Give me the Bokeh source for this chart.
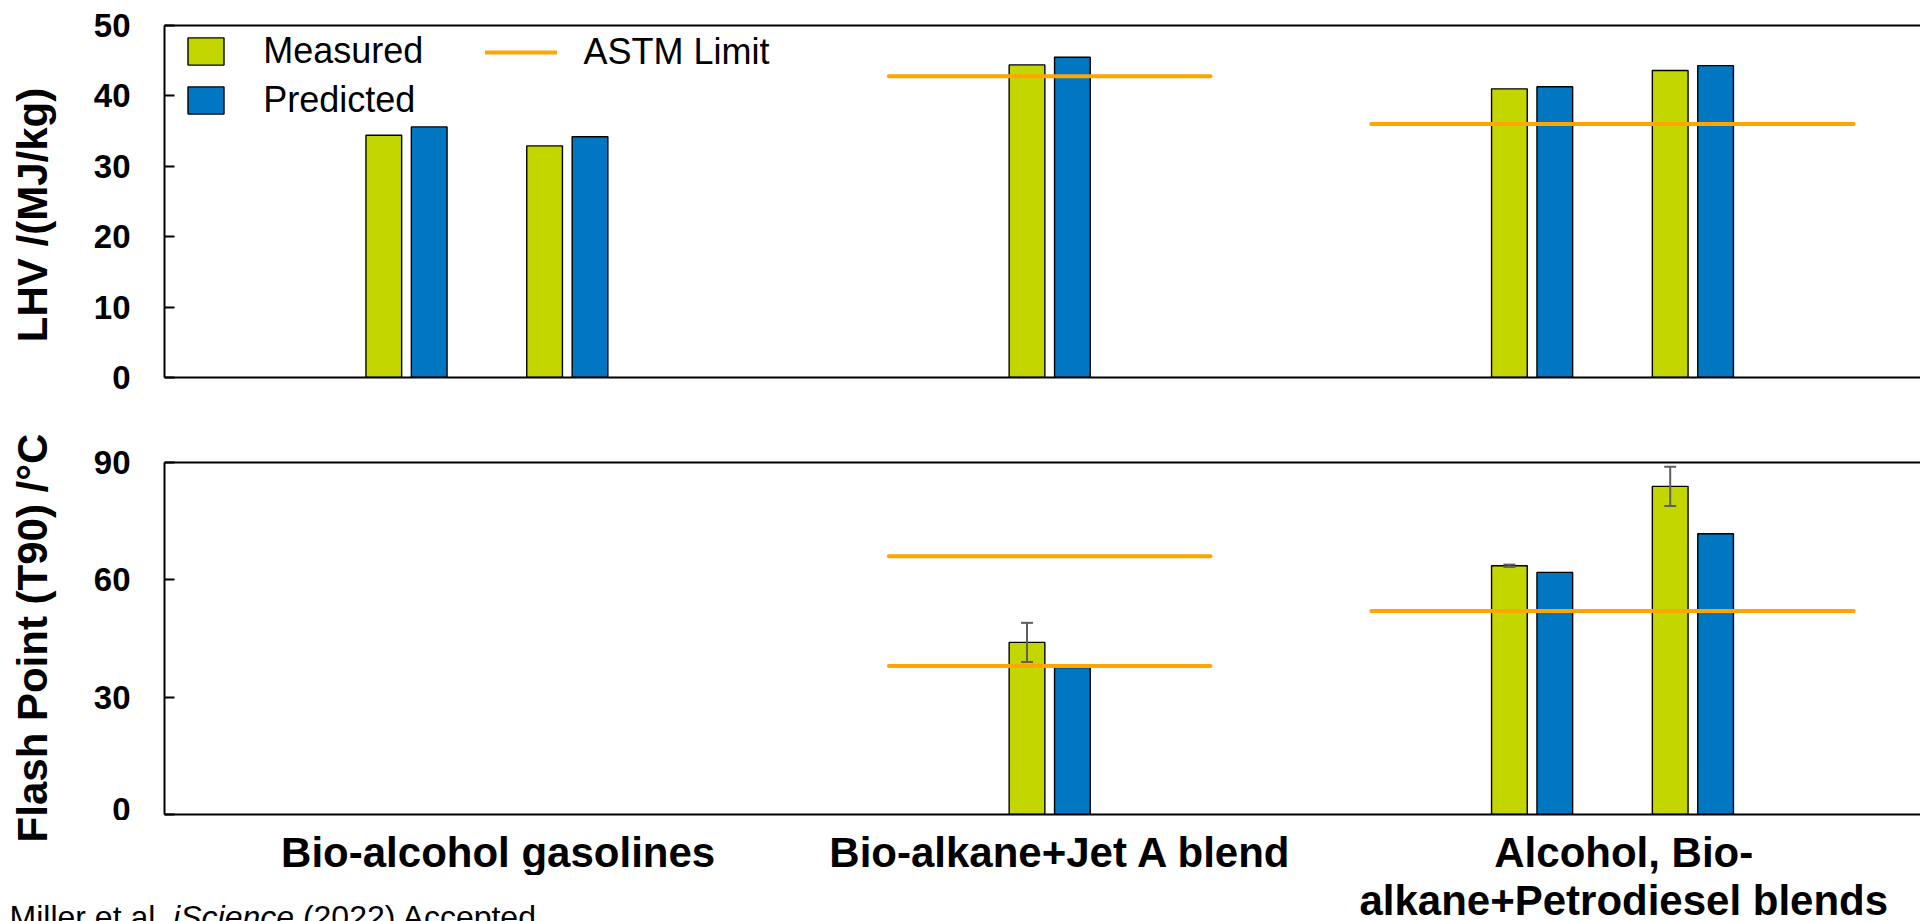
import math
from bokeh.plotting import figure
from bokeh.models import (Range1d, LinearAxis, FixedTicker, Legend, LegendItem,
                          Label, Whisker, TeeHead, ColumnDataSource)
from bokeh.layouts import column, row
from bokeh.embed import file_html
from bokeh.resources import INLINE

NAN = float("nan")

# ---------------- data ----------------
group_names = ["Bio-alcohol gasolines", "Bio-alkane+Jet A blend",
               "Alcohol, Bio-\nalkane+Petrodiesel blends"]
sample_group = [0, 0, 1, 2, 2]
lhv_measured = [34.4, 32.9, 44.4, 41.0, 43.6]
lhv_predicted = [35.6, 34.2, 45.5, 41.3, 44.3]
fp_measured = [NAN, NAN, 44.0, 63.6, 83.9]
fp_measured_err = [NAN, NAN, 5.0, 0.3, 5.0]
fp_predicted = [NAN, NAN, 37.6, 61.9, 71.8]
lhv_limit_group = [1, 2]
lhv_limit_value = [42.8, 36.0]
fp_limit_group = [1, 1, 2]
fp_limit_value = [38.0, 66.0, 52.0]
lhv_ticks = [0, 10, 20, 30, 40, 50]
fp_ticks = [0, 30, 60, 90]
series_names = ["Measured", "Predicted", "ASTM Limit"]
lhv_title = "LHV /(MJ/kg)"
fp_title = "Flash Point (T90) /°C"
footnote_parts = ["Miller et al.", "iScience", "(2022) Accepted"]
footnote_styles = ["normal", "italic", "normal"]

# ---------------- layout / style ----------------
W = 1920
STRIP_W = 84                      # left strip holding the y titles
FRAME_L = 164                     # page x of plot frames
SLOT0_PX = 406.0
SLOT_PX = 160.8
group_first_slot = [0, 4, 7]
BAR_OFF = 22.7 / SLOT_PX
BAR_W = 35.7 / SLOT_PX
X_START = (FRAME_L - SLOT0_PX) / SLOT_PX
X_END = (W - SLOT0_PX) / SLOT_PX
C_MEAS = "#C4D600"
C_PRED = "#0077C0"
C_ASTM = "#FFA500"
C_ERR = "#5F5F5F"
FONT = "Liberation Sans"
BASE_FIX_EM = 0.31                # empirical correction of alphabetic baseline

H1, T1, B1 = 417, 25, 40          # top plot: frame 25..377
H2, T2, B2 = 403, 45, 6           # bottom plot: frame 462..814
Y_CAT = H1 + H2                   # 820: strip with first label line
Y_SPLIT = 875                     # page y where the full-width bottom strip starts
H_PAGE = 921

# sample slots
slots = []
counter = {}
for g in sample_group:
    k = counter.get(g, 0)
    slots.append(group_first_slot[g] + k)
    counter[g] = k + 1
group_last_slot = [group_first_slot[g] + counter[g] - 1 for g in range(len(group_names))]


def style_xaxis(ax):
    ax.ticker = FixedTicker(ticks=[])
    ax.major_tick_line_color = None
    ax.minor_tick_line_color = None
    ax.major_tick_out = 0
    ax.major_tick_in = 0
    ax.major_label_text_font_size = "0px"
    ax.major_label_standoff = 0
    ax.axis_line_width = 2
    ax.axis_line_color = "black"


def style_yaxis(ya, ticks):
    ya.ticker = FixedTicker(ticks=ticks)
    ya.major_tick_in = 10
    ya.major_tick_out = 0
    ya.major_tick_line_width = 2
    ya.major_tick_line_color = "black"
    ya.minor_tick_line_color = None
    ya.axis_line_width = 2
    ya.axis_line_color = "black"
    ya.major_label_standoff = 34
    ya.major_label_text_font = FONT
    ya.major_label_text_font_style = "bold"
    ya.major_label_text_font_size = "33px"
    ya.major_label_text_color = "black"


def make_fig(height, tb, bb, ymax, ticks):
    p = figure(width=W - STRIP_W, height=height, x_range=Range1d(X_START, X_END),
               y_range=Range1d(0, ymax), output_backend="svg", toolbar_location=None,
               min_border_left=FRAME_L - STRIP_W, min_border_right=0, min_border_top=tb,
               min_border_bottom=bb, outline_line_color=None, frame_align=False,
               background_fill_color="white", border_fill_color="white")
    p.grid.visible = False
    top = LinearAxis()
    style_xaxis(top)
    p.add_layout(top, "above")
    for ax in p.below:
        style_xaxis(ax)
    style_yaxis(p.left[0], ticks)
    return p


def draw_bars(p, meas, pred):
    xm, tm, xp, tp = [], [], [], []
    for s, m, q in zip(slots, meas, pred):
        if not math.isnan(m):
            xm.append(s - BAR_OFF); tm.append(m)
        if not math.isnan(q):
            xp.append(s + BAR_OFF); tp.append(q)
    rm = p.vbar(x=xm, top=tm, bottom=0, width=BAR_W, fill_color=C_MEAS,
                line_color="black", line_width=1.4)
    rp = p.vbar(x=xp, top=tp, bottom=0, width=BAR_W, fill_color=C_PRED,
                line_color="black", line_width=1.4)
    return rm, rp


def draw_limits(p, lgroups, lvalues):
    x0 = [group_first_slot[g] - 1 for g in lgroups]
    x1 = [group_last_slot[g] + 1 for g in lgroups]
    return p.segment(x0=x0, y0=lvalues, x1=x1, y1=lvalues, line_color=C_ASTM,
                     line_width=4, line_cap="round")


def text_strip(x0, x1, y0, y1):
    """A bare figure whose data coordinates are page pixels."""
    s = figure(width=x1 - x0, height=y1 - y0, x_range=Range1d(x0, x1),
               y_range=Range1d(y1, y0), output_backend="svg",
               toolbar_location=None, min_border=0, outline_line_color=None,
               frame_align=False, background_fill_color="white",
               border_fill_color="white")
    s.axis.visible = False
    s.grid.visible = False
    return s


# ---------------- top panel ----------------
p1 = make_fig(H1, T1, B1, 50, lhv_ticks)
rm, rp = draw_bars(p1, lhv_measured, lhv_predicted)
rl = draw_limits(p1, lhv_limit_group, lhv_limit_value)

leg1 = Legend(items=[LegendItem(label=series_names[0], renderers=[rm]),
                     LegendItem(label=series_names[1], renderers=[rp])],
              location=(19.2, 255.7), orientation="vertical", glyph_width=45,
              glyph_height=34, label_standoff=35, spacing=7, padding=0, margin=0,
              border_line_color=None, background_fill_alpha=0,
              label_text_font=FONT, label_text_font_size="36px",
              label_text_color="black")
p1.add_layout(leg1)
leg2 = Legend(items=[LegendItem(label=series_names[2], renderers=[rl])],
              location=(321.4, 304.2), orientation="vertical", glyph_width=72,
              glyph_height=34, label_standoff=26, spacing=7, padding=0, margin=0,
              border_line_color=None, background_fill_alpha=0,
              label_text_font=FONT, label_text_font_size="36px",
              label_text_color="black")
p1.add_layout(leg2)

# ---------------- bottom panel ----------------
p2 = make_fig(H2, T2, B2, 90, fp_ticks)
draw_bars(p2, fp_measured, fp_predicted)
draw_limits(p2, fp_limit_group, fp_limit_value)

ex, eu, el = [], [], []
for s, m, e in zip(slots, fp_measured, fp_measured_err):
    if not math.isnan(m) and not math.isnan(e):
        ex.append(s - BAR_OFF); eu.append(m + e); el.append(m - e)
wsrc = ColumnDataSource(dict(x=ex, upper=eu, lower=el))
p2.add_layout(Whisker(source=wsrc, base="x", upper="upper", lower="lower",
                      line_color=C_ERR, line_width=2, level="overlay",
                      upper_head=TeeHead(size=12, line_color=C_ERR, line_width=2),
                      lower_head=TeeHead(size=12, line_color=C_ERR, line_width=2)))

# ---------------- text strips (page-pixel coordinates) ----------------
left = text_strip(0, STRIP_W, 0, Y_SPLIT)
for txt, cy in [(lhv_title, 214.5), (fp_title, 637.5)]:
    left.add_layout(Label(x=32, y=cy, text=txt, angle=math.pi / 2,
                          text_align="center", text_baseline="middle",
                          text_font=FONT, text_font_style="bold",
                          text_font_size="42px", text_color="black"))

cat = text_strip(STRIP_W, W, Y_CAT, Y_SPLIT)
bottom = text_strip(0, W, Y_SPLIT, H_PAGE)

LINE_H = 48
CAT_SIZE = 42
for g, name in enumerate(group_names):
    cx = (group_first_slot[g] + group_last_slot[g]) / 2 + 0.07
    for i, line in enumerate(name.split("\n")):
        target = cat if i == 0 else bottom
        target.add_layout(Label(x=SLOT0_PX + cx * SLOT_PX,
                                y=865 + i * LINE_H - BASE_FIX_EM * CAT_SIZE,
                                text=line, text_align="center",
                                text_baseline="alphabetic", text_font=FONT,
                                text_font_style="bold", text_font_size=f"{CAT_SIZE}px",
                                text_color="black"))

FN_SIZE = 32
em_w = {"Miller et al.": 4.834, "iScience": 3.779, "(2022) Accepted": 7.337}
SPACE_EM = 0.278
px = 9.0
for part, style in zip(footnote_parts, footnote_styles):
    bottom.add_layout(Label(x=px, y=926 - BASE_FIX_EM * FN_SIZE, text=part,
                            text_align="left", text_baseline="alphabetic",
                            text_font=FONT, text_font_style=style,
                            text_font_size=f"{FN_SIZE}px", text_color="black"))
    px += (em_w[part] + SPACE_EM) * FN_SIZE

layout = column(row(left, column(p1, p2, cat, spacing=0), spacing=0), bottom, spacing=0)
open("out.html", "w").write(file_html(layout, INLINE))
